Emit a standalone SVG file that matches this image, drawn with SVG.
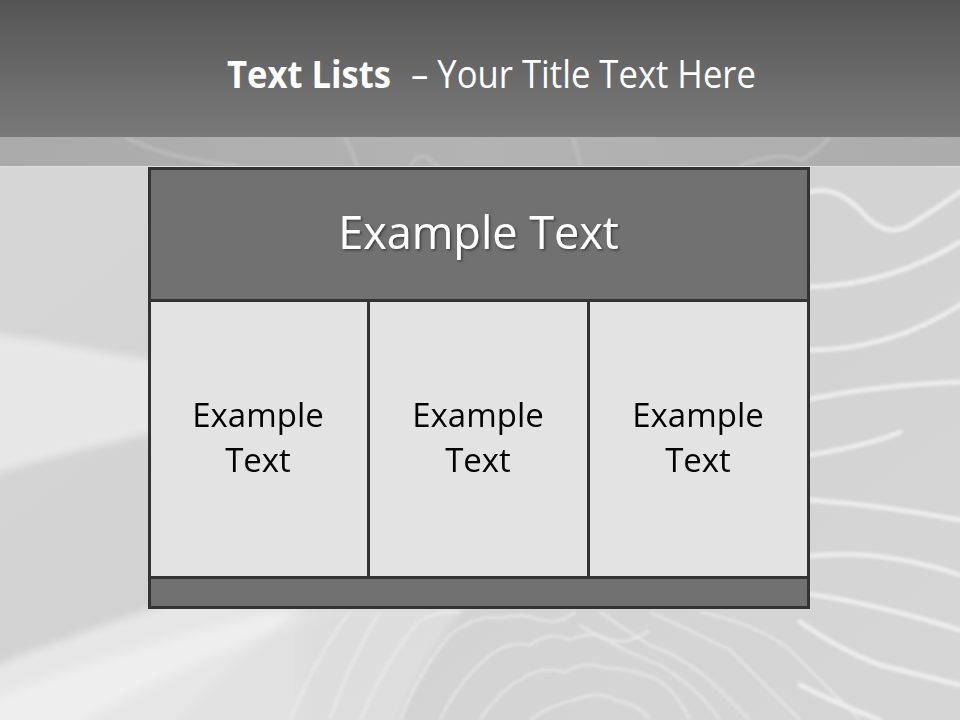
<svg xmlns="http://www.w3.org/2000/svg" width="960" height="720" viewBox="0 0 960 720">
  <defs>
    <linearGradient id="hdr" x1="0" y1="0" x2="0" y2="1">
      <stop offset="0" stop-color="#555555"/>
      <stop offset="1" stop-color="#7a7a7a"/>
    </linearGradient>
    <linearGradient id="bg" x1="0" y1="0" x2="1" y2="1">
      <stop offset="0" stop-color="#d8d8d8"/>
      <stop offset="0.5" stop-color="#d2d2d2"/>
      <stop offset="1" stop-color="#d6d6d6"/>
    </linearGradient>
    <linearGradient id="strip" x1="0" y1="0" x2="1" y2="0">
      <stop offset="0" stop-color="#aaaaaa"/>
      <stop offset="0.5" stop-color="#b3b3b3"/>
      <stop offset="1" stop-color="#acacac"/>
    </linearGradient>
    <filter id="shadow" x="-10%" y="-20%" width="120%" height="150%">
      <feDropShadow dx="1.5" dy="1.5" stdDeviation="1" flood-color="#000000" flood-opacity="0.45"/>
    </filter>
    <filter id="soft" x="-5%" y="-5%" width="110%" height="110%">
      <feGaussianBlur stdDeviation="1.5"/>
    </filter>
    <filter id="softer" x="-10%" y="-10%" width="120%" height="120%">
      <feGaussianBlur stdDeviation="4"/>
    </filter>
    <style>
      .wave { fill: none; stroke: #f2f2f2; stroke-width: 5; stroke-opacity: 0.8; stroke-linecap: round; }
      .wave2 { fill: none; stroke: #efefef; stroke-width: 3; stroke-opacity: 0.6; }
      .cell { fill: #e3e3e3; stroke: #333333; stroke-width: 3; }
      .dark { fill: #717171; stroke: #333333; stroke-width: 3; }
      .ctext { font-family: "Open Sans", "DejaVu Sans", sans-serif; font-size: 33px; fill: #000000; text-anchor: middle; }
      .title { font-family: "Open Sans", "DejaVu Sans", sans-serif; font-size: 38px; fill: #ffffff; }
    </style>
  </defs>

  <!-- background -->
  <rect x="0" y="0" width="960" height="720" fill="url(#bg)"/>
  <g filter="url(#softer)">
    <path d="M-10,333 Q80,345 300,390 L300,400 Q70,450 -10,475 Z" fill="#e7e7e7"/>
    <path d="M-10,668 Q80,630 300,560 L300,730 L-10,730 Z" fill="#e6e6e6"/>
    <path d="M-10,700 Q150,640 280,612 L330,612 Q160,670 70,730 L-10,730 Z" fill="#eeeeee"/>
    <path d="M200,600 L470,600 Q420,660 395,730 L170,730 Q230,660 300,612 Z" fill="#e0e0e0" opacity="0.8"/>
  </g>

  <g filter="url(#soft)">
    <!-- right-side waves -->
    <path class="wave" d="M810,192 Q835,185 860,210 Q885,240 910,225 Q935,210 960,192"/>
    <path class="wave" d="M810,287 Q890,285 960,242"/>
    <path class="wave" d="M810,350 Q890,350 960,305"/>
    <path class="wave" d="M810,399 Q880,385 960,382"/>
    <path class="wave" d="M810,455 Q870,445 900,432"/>
    <path class="wave" d="M810,500 Q880,505 960,520"/>
    <path class="wave" d="M810,556 Q880,548 960,575"/>
    <path class="wave" d="M810,594 Q880,605 960,630"/>
    <path class="wave" d="M800,622 Q840,650 880,665 Q920,675 960,685"/>
    <path class="wave" d="M800,685 Q840,705 880,720"/>

    <!-- bottom ripple waves -->
    <path class="wave2" d="M290,720 Q320,650 350,612"/>
    <path class="wave2" d="M330,720 Q350,660 380,612"/>
    <path class="wave2" d="M360,720 Q385,660 420,620 Q440,610 460,612"/>
    <path class="wave2" d="M400,720 Q420,670 450,635 Q475,615 500,618 Q520,612 540,620 Q560,625 575,612"/>
    <path class="wave2" d="M440,720 Q460,680 485,660 Q505,640 530,645 Q550,630 570,640 Q590,630 610,640 Q630,645 650,630"/>
    <path class="wave2" d="M480,720 Q500,690 520,680 Q540,665 565,672 Q585,660 605,668 Q625,668 645,675 Q670,680 690,720"/>
    <path class="wave2" d="M530,720 Q550,705 575,700 Q600,690 615,700 Q640,705 650,720"/>
    <path class="wave2" d="M600,612 Q625,630 650,645 Q690,660 720,690 Q740,710 750,720"/>
    <path class="wave2" d="M650,612 Q690,630 730,650 Q770,690 800,720"/>
    <path class="wave2" d="M700,612 Q760,625 790,650 Q830,690 860,720"/>
    <path class="wave2" d="M580,625 Q620,650 660,665 Q700,690 720,720"/>
  </g>

  <!-- strip below header -->
  <rect x="0" y="137" width="960" height="30" fill="url(#strip)"/>
  <g filter="url(#soft)" opacity="0.6">
    <path d="M125,137 Q170,160 240,166" fill="none" stroke="#c2c2c2" stroke-width="4"/>
    <path d="M345,137 Q352,150 357,166" fill="none" stroke="#c4c4c4" stroke-width="4"/>
    <path d="M410,166 Q420,150 430,160 Q435,165 440,166" fill="none" stroke="#c4c4c4" stroke-width="4"/>
    <path d="M573,137 Q577,150 580,166" fill="none" stroke="#c4c4c4" stroke-width="4"/>
    <path d="M740,166 Q780,150 800,160 Q820,150 830,137" fill="none" stroke="#c4c4c4" stroke-width="4"/>
  </g>
  <line x1="0" y1="166.5" x2="960" y2="166.5" stroke="#dedede" stroke-width="1"/>

  <!-- header band -->
  <rect x="0" y="0" width="960" height="137" fill="url(#hdr)"/>

  <g id="title">
    <text class="title" x="227" y="88" font-weight="bold" textLength="164" lengthAdjust="spacingAndGlyphs">Text Lists</text>
    <text class="title" x="411" y="88" textLength="345" lengthAdjust="spacingAndGlyphs">– Your Title Text Here</text>
  </g>

  <g id="header-row">
    <rect class="dark" x="149.5" y="168.5" width="659" height="132"/>
    <text x="478.5" y="249" font-family="'Open Sans', 'DejaVu Sans', sans-serif" font-size="45" fill="#ffffff" text-anchor="middle" filter="url(#shadow)">Example Text</text>
  </g>

  <g id="cell-1">
    <rect class="cell" x="149.5" y="300.5" width="219" height="277"/>
    <text class="ctext" x="258" y="427">Example</text>
    <text class="ctext" x="258" y="472">Text</text>
  </g>

  <g id="cell-2">
    <rect class="cell" x="368.5" y="300.5" width="220" height="277"/>
    <text class="ctext" x="478" y="427">Example</text>
    <text class="ctext" x="478" y="472">Text</text>
  </g>

  <g id="cell-3">
    <rect class="cell" x="588.5" y="300.5" width="220" height="277"/>
    <text class="ctext" x="698" y="427">Example</text>
    <text class="ctext" x="698" y="472">Text</text>
  </g>

  <g id="footer-row">
    <rect class="dark" x="149.5" y="577.5" width="659" height="30"/>
  </g>

  <g id="connectors"/>
</svg>
